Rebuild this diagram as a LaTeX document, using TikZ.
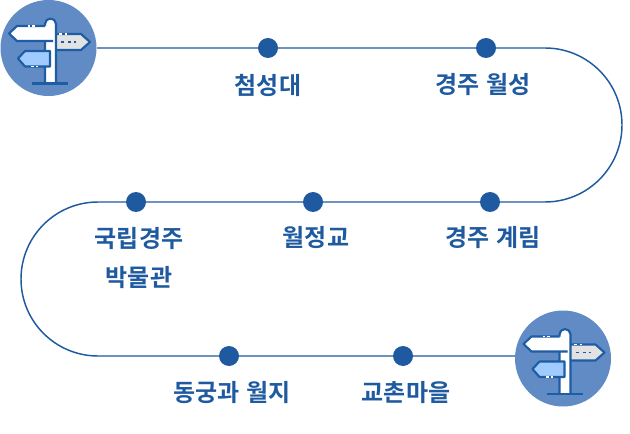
\documentclass[tikz,border=0pt]{standalone}
\usepackage{fontspec}
\newfontfamily\krfont{Noto Sans CJK KR}[BoldFont={Noto Sans CJK KR Bold}]
\definecolor{navy}{HTML}{1F5AA0}
\definecolor{disc}{HTML}{618BC4}
\definecolor{icline}{HTML}{1E5CA3}
\definecolor{signgray}{HTML}{E2E2E2}
\definecolor{signblue}{HTML}{9FCBFF}
\tikzset{
  x=0.75pt,y=-0.75pt,
  stop/.style={circle,fill=navy,draw=none,minimum size=15pt,inner sep=0pt},
  place/.style={font=\krfont\bfseries\fontsize{18pt}{29pt}\selectfont,text=navy,align=center,inner sep=0pt},
  route/.style={draw=navy,line width=1.1pt},
  icl/.style={draw=icline,line width=1.6pt,line join=round},
  signpost/.pic={
    \fill[disc] (48.5,48) circle[radius=48];
    \path[icl,fill=signgray] (52,34) -- (81,34) -- (90,42) -- (81,50) -- (52,50) -- cycle;
    \path[icl,fill=white] (45,83) -- (45,24) arc[start angle=180,end angle=360,radius=5.5] -- (56,83);
    \fill[white] (17,26) -- (9,33.5) -- (17,41) -- (53,41) -- (53,34) -- (46,26) -- cycle;
    \draw[icl] (45,26) -- (17,26) -- (9,33.5) -- (17,41) -- (53,41);
    \path[icl,fill=signblue] (50,51) -- (25,51) -- (18,58.5) -- (25,66.5) -- (50,66.5) -- cycle;
    \draw[icl] (32,83.5) -- (68,83.5);
    \draw[white,line width=1.4pt] (28,26) -- (30,26) (32,26) -- (35,26);
    \draw[white,line width=1.4pt] (59,34) -- (62,34) (65,34) -- (67,34);
    \draw[icl,line width=1.1pt] (61,42) -- (64,42) (68,42) -- (71,42) (74,42) -- (76,42);
    \draw[white,line width=1.4pt] (31,66.5) -- (34,66.5) (36,66.5) -- (38,66.5);
  }
}
\begin{document}
\begin{tikzpicture}
\useasboundingbox (0,0) rectangle (630,434);
\coordinate (start) at (97,48);
\coordinate (finish) at (515,356);
\draw[route] (start) -- (545,48) arc[start angle=-90,end angle=90,radius=77] -- (98,202) arc[start angle=270,end angle=90,radius=77] -- (finish);
\pic at (0,0) {signpost};
\pic at (514.5,310.5) {signpost};
\node[stop] (a1) at (268,48) {};
\node[stop] (a2) at (486,48) {};
\node[stop] (b1) at (490,202) {};
\node[stop] (b2) at (313,202) {};
\node[stop] (b3) at (136,202) {};
\node[stop] (c1) at (229,356) {};
\node[stop] (c2) at (403,356) {};
\node[place] (t1) at (268,85) {첨성대};
\node[place] (t2) at (483,85) {경주\hspace{1.5pt} 월성};
\node[place] (t3) at (493,238) {경주\hspace{1.5pt} 계림};
\node[place] (t4) at (316,238) {월정교};
\node[place] (t5) at (139,258) {국립경주\\박물관};
\node[place] (t6) at (232,393) {동궁과\hspace{1.5pt} 월지};
\node[place] (t7) at (406,393) {교촌마을};
\end{tikzpicture}
\end{document}
